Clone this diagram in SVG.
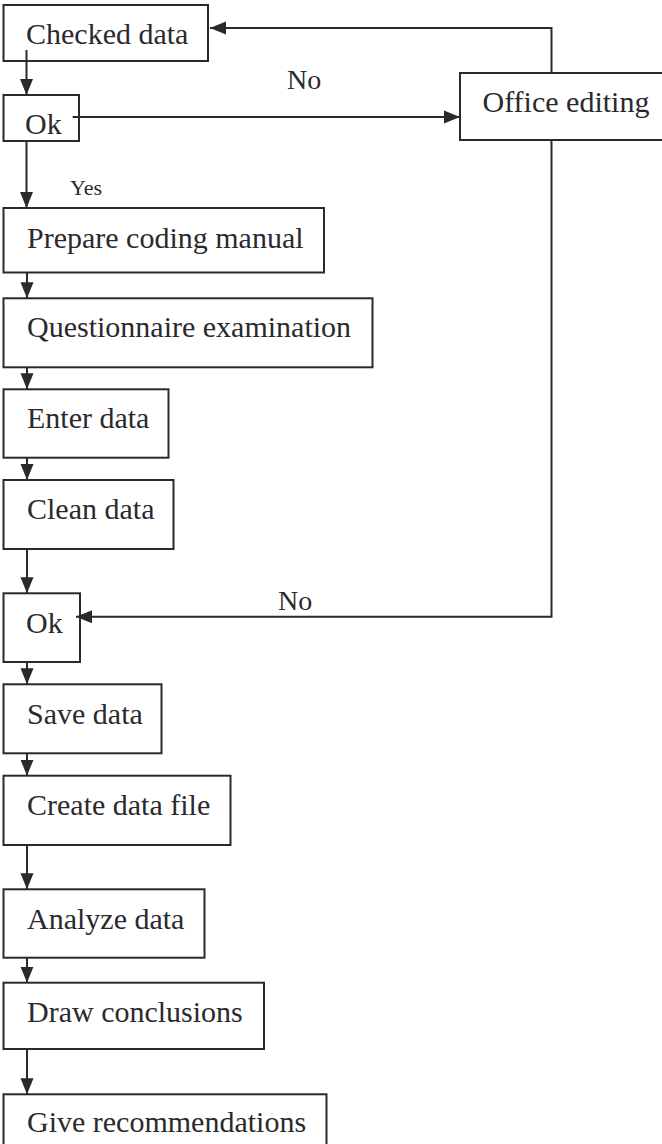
<svg xmlns="http://www.w3.org/2000/svg" width="662" height="1144" viewBox="0 0 662 1144">
<defs>
<marker id="ah" markerWidth="16" markerHeight="14" refX="16" refY="7" orient="auto" markerUnits="userSpaceOnUse">
<path d="M0,0.5 L16,7 L0,13.5 Z" fill="#2a2a2e"/>
</marker>
<style>
.box{fill:#fff;stroke:#2a2a2e;stroke-width:2}
.t{font-family:"Liberation Serif","Times New Roman",serif;font-size:30px;fill:#2a2a2e}
.l{font-family:"Liberation Serif","Times New Roman",serif;fill:#2a2a2e}
.c{fill:none;stroke:#2a2a2e;stroke-width:2;marker-end:url(#ah)}
</style>
</defs>
<rect width="662" height="1144" fill="#fff"/>
<g id="checked"><rect class="box" x="3.5" y="5" width="204.5" height="56"/><text class="t" x="26" y="44">Checked data</text></g>
<g id="ok1"><rect class="box" x="3.5" y="95" width="75.5" height="46"/><text class="t" x="25" y="134">Ok</text></g>
<g id="office"><rect class="box" x="460" y="73" width="210" height="67"/><text class="t" x="482.5" y="112">Office editing</text></g>
<g id="prepare"><rect class="box" x="3.5" y="208" width="320.5" height="64.5"/><text class="t" x="27" y="248">Prepare coding manual</text></g>
<g id="question"><rect class="box" x="3.5" y="298.3" width="369" height="69"/><text class="t" x="27" y="337.3">Questionnaire examination</text></g>
<g id="enter"><rect class="box" x="3.5" y="389.3" width="165" height="68.4"/><text class="t" x="27" y="428.3">Enter data</text></g>
<g id="clean"><rect class="box" x="3.5" y="480" width="170" height="69"/><text class="t" x="27" y="519.3">Clean data</text></g>
<g id="ok2"><rect class="box" x="3.5" y="593.3" width="76.5" height="68.7"/><text class="t" x="26" y="632.7">Ok</text></g>
<g id="save"><rect class="box" x="3.5" y="684.3" width="158" height="69"/><text class="t" x="27" y="724">Save data</text></g>
<g id="create"><rect class="box" x="3.5" y="775.7" width="227" height="69.3"/><text class="t" x="27" y="815">Create data file</text></g>
<g id="analyze"><rect class="box" x="3.5" y="889.3" width="201" height="68.4"/><text class="t" x="27" y="929.3">Analyze data</text></g>
<g id="draw"><rect class="box" x="3.5" y="982.7" width="260.5" height="66.3"/><text class="t" x="27" y="1021.7">Draw conclusions</text></g>
<g id="give"><rect class="box" x="3.5" y="1094.3" width="323" height="60"/><text class="t" x="27" y="1131.7">Give recommendations</text></g>
<g id="connectors">
<path class="c" d="M551.5,73 V28 H210"/>
<path class="c" d="M26.5,50 V95"/>
<path class="c" d="M72.6,117 H460"/>
<path class="c" d="M26.5,141 V208"/>
<path class="c" d="M27,272.5 V298.3"/>
<path class="c" d="M27,367.3 V389.3"/>
<path class="c" d="M27,457.7 V480"/>
<path class="c" d="M27,549 V593.3"/>
<path class="c" d="M551.5,140 V616.7 H76"/>
<path class="c" d="M27,662 V684.3"/>
<path class="c" d="M27,753.3 V775.7"/>
<path class="c" d="M27,845 V889.3"/>
<path class="c" d="M27,957.7 V982.7"/>
<path class="c" d="M27,1049 V1094.3"/>
<text class="l" x="287" y="89" font-size="28">No</text>
<text class="l" x="70" y="195" font-size="22">Yes</text>
<text class="l" x="278" y="610" font-size="28">No</text>
</g>
</svg>
